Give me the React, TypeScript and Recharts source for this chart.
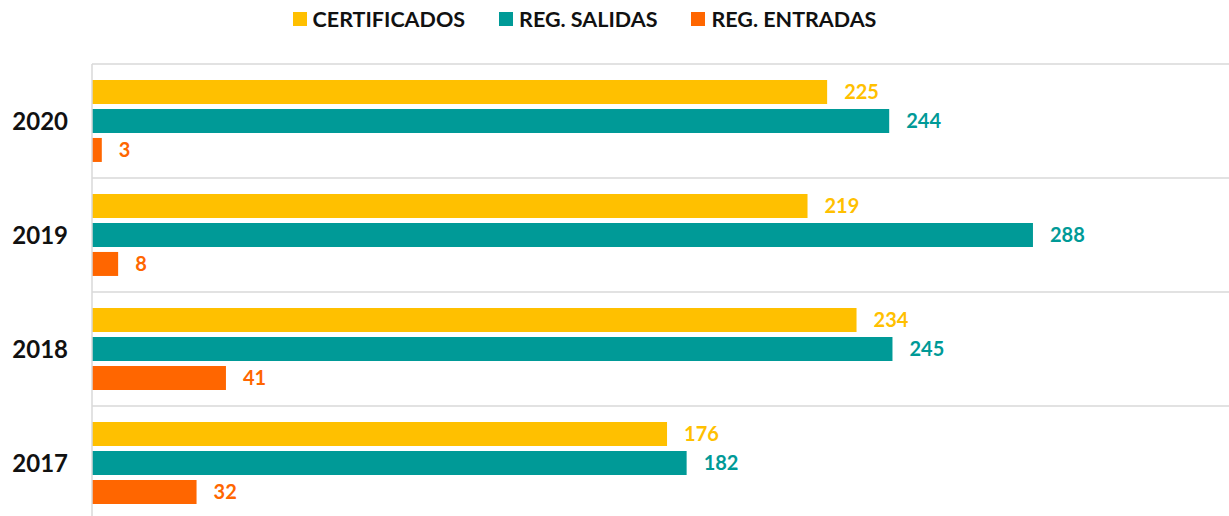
import React from 'react';
import { BarChart, Bar, XAxis, YAxis, CartesianGrid, Legend, LabelList } from 'recharts';

const years = ['2020', '2019', '2018', '2017'];
const certificados = [225, 219, 234, 176];
const regSalidas = [244, 288, 245, 182];
const regEntradas = [3, 8, 41, 32];

const series = [
  { key: 'certificados', name: 'CERTIFICADOS', color: '#FFC000' },
  { key: 'salidas', name: 'REG. SALIDAS', color: '#009A97' },
  { key: 'entradas', name: 'REG. ENTRADAS', color: '#FF6600' },
];

const data = years.map((year, i) => ({
  year,
  certificados: certificados[i],
  salidas: regSalidas[i],
  entradas: regEntradas[i],
}));

const FONT = 'Lato, "Open Sans", sans-serif';

function LegendContent() {
  return (
    <div style={{ height: 64, display: 'flex', justifyContent: 'center', alignItems: 'flex-start', paddingTop: 6, paddingRight: 60, boxSizing: 'border-box', fontFamily: FONT }}>
      {series.map((s) => (
        <div key={s.key} style={{ display: 'flex', alignItems: 'center', margin: '0 17px' }}>
          <span style={{ width: 14, height: 14, background: s.color, display: 'inline-block', marginRight: 6 }} />
          <span style={{ fontSize: 21.5, fontWeight: 700, color: '#111' }}>{s.name}</span>
        </div>
      ))}
    </div>
  );
}

export default function App() {
  return (
    <div style={{ position: 'absolute', left: 0, top: 0, width: 1229, height: 516, overflow: 'hidden', background: '#fff' }}>
      <BarChart
        width={1229}
        height={520}
        data={data}
        layout="vertical"
        margin={{ top: 0, right: 0, bottom: 0, left: 0 }}
        barCategoryGap="14%"
        barGap={5}
      >
        <Legend verticalAlign="top" content={<LegendContent />} />
        <CartesianGrid
          vertical={false}
          stroke="#d9d9d9"
          strokeWidth={1.5}
          horizontalCoordinatesGenerator={({ offset }) => {
            const step = offset.height / years.length;
            return years.map((_, i) => offset.top + i * step).concat(offset.top + offset.height);
          }}
        />
        <XAxis type="number" domain={[0, 348]} hide />
        <YAxis
          type="category"
          dataKey="year"
          width={92}
          axisLine={{ stroke: '#d9d9d9', strokeWidth: 1.5 }}
          tickLine={false}
          tickSize={0}
          tickMargin={24}
          tick={{ fill: '#111', fontSize: 24, fontWeight: 700, fontFamily: FONT }}
        />
        {series.map((s) => (
          <Bar key={s.key} dataKey={s.key} name={s.name} fill={s.color} isAnimationActive={false}>
            <LabelList
              dataKey={s.key}
              position="right"
              offset={17}
              fill={s.color}
              style={{ fontSize: 20, fontWeight: 700, fontFamily: FONT }}
            />
          </Bar>
        ))}
      </BarChart>
    </div>
  );
}
